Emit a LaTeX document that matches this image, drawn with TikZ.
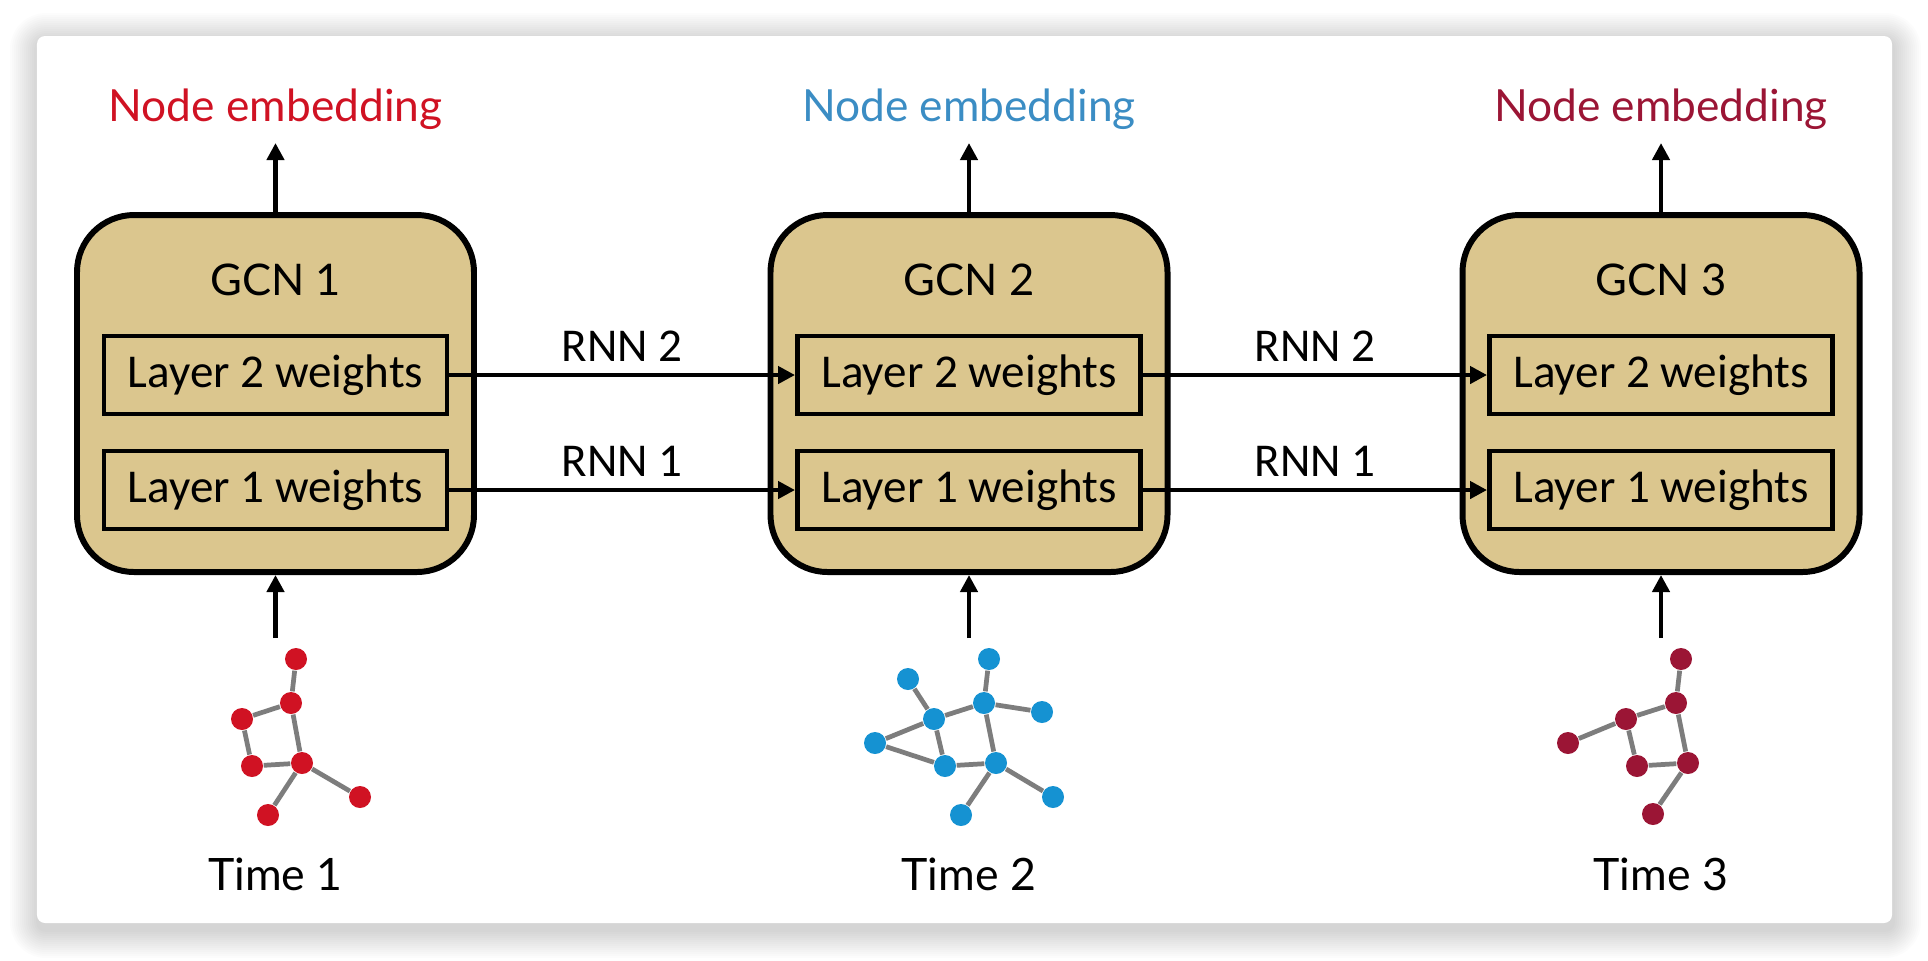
\documentclass[tikz,border=0pt]{standalone}
\usepackage{fontspec}
\setmainfont{Carlito}
\newfontfamily\gillfont{Lato}
\usepackage{tikz}
\usetikzlibrary{arrows.meta}

\definecolor{embRed}{RGB}{208,18,35}
\definecolor{embBlue}{RGB}{59,141,196}
\definecolor{embMaroon}{RGB}{155,21,53}
\definecolor{dotBlue}{RGB}{21,146,210}
\definecolor{paper}{RGB}{219,198,142}
\definecolor{linkGray}{RGB}{125,125,125}

\newcommand{\plotGraph}[4]{
    % Draw the vertices
    \foreach \n/\x/\y in {#3} {
      \node[vertex, fill=#2] (#1\n) at (\x,\y) {};
    }

    % Draw the links between them
    \foreach \a/\b in {#4} {
      \draw[link] (#1\a) -- (#1\b);
    }
}

\begin{document}
\begin{tikzpicture}[y=-1cm, >={Triangle[length=0.17cm,width=0.17cm]},
    gcn/.style={draw, line width=1.7pt, rounded corners=0.57cm, fill=paper,
      minimum width=3.97cm, minimum height=3.57cm},
    layer/.style={draw, line width=1.4pt, minimum width=3.43cm, minimum height=0.78cm,
      font=\fontsize{13.4}{16}\selectfont},
    vertex/.style={circle, inner sep=0pt, minimum size=0.22cm},
    link/.style={draw=linkGray, line width=1.35pt},
    flow/.style={->, line width=1.2pt},
    gilltext/.style={anchor=base, font=\gillfont\fontsize{#1}{15}\selectfont}]
  \useasboundingbox (0,0) rectangle (19.28,9.6);

  % Draw the card and its soft shadow
  \fill[white] (0,0) rectangle (19.28,9.6);
  \foreach \k in {1,...,14} {
    \fill[black, opacity=0.013, rounded corners=0.08cm+\k*0.02cm]
      (0.38-\k*0.02,0.41-\k*0.02) rectangle (18.93+\k*0.02,9.30+\k*0.02);
  }
  \fill[white, rounded corners=0.08cm] (0.37,0.36) rectangle (18.92,9.23);

  % Draw the GCN at each time step
  \foreach \i/\x/\col in {1/2.755/embRed, 2/9.69/embBlue, 3/16.61/embMaroon} {
    \node[gcn] (gcn\i) at (\x,3.935) {};
    \node[gilltext=12.4] (title\i) at (\x,2.95) {GCN \i};
    \node[layer] (layB\i) at (\x,3.75) {Layer 2 weights};
    \node[layer] (layA\i) at (\x,4.90) {Layer 1 weights};
    \node[gilltext=12.6, text=\col] (emb\i) at (\x,1.21) {Node embedding};
    \node[gilltext=12.7] (time\i) at (\x,8.90) {Time \i};
    \coordinate (out\i) at (\x,1.43);
    \coordinate (in\i) at (\x,6.38);
    \draw[flow] (gcn\i.north) -- (out\i);
    \draw[flow] (in\i) -- (gcn\i.south);
  }

  % RNN links between the weights
  \foreach \a/\b in {1/2, 2/3} {
    \draw[flow] (layB\a) -- node[above=0.11cm, inner sep=0pt, font=\fontsize{13.4}{16}\selectfont] {RNN 2} (layB\b);
    \draw[flow] (layA\a) -- node[above=0.11cm, inner sep=0pt, font=\fontsize{13.4}{16}\selectfont] {RNN 1} (layA\b);
  }

  % Graphs at time 1, 2 and 3
  \plotGraph{r}{embRed}{1/2.96/6.59, 2/2.91/7.03, 3/2.42/7.19, 4/2.52/7.66, 5/3.02/7.63, 6/3.60/7.97, 7/2.68/8.15}
    {1/2, 2/3, 3/4, 4/5, 2/5, 5/6, 5/7}
  \plotGraph{b}{dotBlue}{1/9.89/6.59, 2/9.08/6.79, 3/9.84/7.03, 4/10.42/7.12, 5/9.34/7.19, 6/8.75/7.43, 7/9.45/7.66, 8/9.96/7.63, 9/10.53/7.97, 10/9.61/8.15}
    {1/3, 3/4, 3/5, 2/5, 5/6, 6/7, 5/7, 7/8, 3/8, 8/9, 8/10}
  \plotGraph{m}{embMaroon}{1/16.81/6.59, 2/16.76/7.03, 3/16.26/7.19, 4/15.68/7.43, 5/16.37/7.66, 6/16.88/7.63, 7/16.53/8.14}
    {1/2, 2/3, 3/4, 3/5, 5/6, 2/6, 6/7}
\end{tikzpicture}
\end{document}
